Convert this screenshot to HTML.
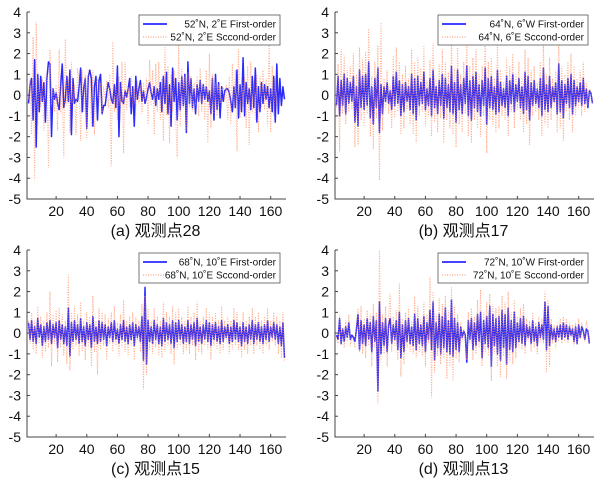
<!DOCTYPE html>
<html><head><meta charset="utf-8"><style>
html,body{margin:0;padding:0;background:#fff;}
svg{display:block;font-family:"Liberation Sans","Noto Sans CJK SC",sans-serif;}
</style></head><body>
<svg id="fig" width="603" height="481" viewBox="0 0 603 481"></svg>
<script>
const xTicks=[20,40,60,80,100,120,140,160];
const yTicks=[4,3,2,1,0,-1,-2,-3,-4,-5];
const titles=["(a) 观测点28","(b) 观测点17","(c) 观测点15","(d) 观测点13"];
const legendFirst=["52˚N, 2˚E First-order","64˚N, 6˚W First-order","68˚N, 10˚E First-order","72˚N, 10˚W First-order"];
const legendSecond=["52˚N, 2˚E Sccond-order","64˚N, 6˚E Sccond-order","68˚N, 10˚E Sccond-order","72˚N, 10˚E Sccond-order"];
const firstA=[-0.4,0.5,0.8,-1.2,1.7,-2.5,1.0,-0.8,0.9,-0.3,0.6,-1.3,0.8,1.6,1.5,-2.0,0.3,-0.2,0.1,-0.4,-0.7,0.5,1.5,-0.6,-0.2,0.9,-0.3,1.2,-1.9,0.8,-0.4,-0.2,-0.3,0.4,1.3,-0.8,0.3,0.8,-1.6,0.9,1.2,0.8,-1.5,0.4,0.9,-1.2,0.7,1.0,-0.9,-0.5,-0.5,0.1,0.6,0.3,-0.2,-0.4,0.5,-0.6,1.4,-2.0,0.6,-0.3,-0.4,0.2,-0.1,0.3,0.8,-0.9,0.4,-1.5,0.9,-0.2,0.3,0.7,-0.3,0.2,-0.4,-0.1,0.3,0.6,0.1,-0.2,0.4,-0.5,0.3,-0.2,0.6,-0.8,0.9,-0.4,1.1,-0.9,0.5,-1.5,1.3,-0.3,0.8,-1.2,0.6,-0.7,0.9,-0.5,1.0,-1.8,1.6,-0.4,0.8,-0.6,0.3,-0.9,0.5,-0.3,0.7,-0.4,0.5,-0.2,0.4,-0.3,0.2,-0.9,0.8,-1.2,1.0,-0.7,0.6,-1.1,0.4,-0.3,0.2,0.3,0.3,0.1,-0.3,-0.8,0.4,-0.6,1.2,-1.1,0.5,-0.8,1.8,-1.0,0.6,-0.4,0.3,-0.7,0.9,-0.6,1.3,-1.3,0.4,-0.8,0.6,-0.4,0.5,-0.2,0.4,-0.6,0.3,-0.8,0.9,-1.3,1.5,-0.9,0.8,-0.5,0.4,-0.2];
const secondA=[-0.2,0.8,-1.9,2.8,-4.1,3.5,-1.4,0.9,-0.6,0.8,-1.7,0.9,1.0,-3.5,2.2,-0.5,0.3,-0.8,0.5,-1.7,2.2,-0.9,0.4,-3.0,2.7,-0.5,0.7,-1.8,1.6,-0.4,0.5,-1.9,1.3,0.7,-2.2,1.2,-0.8,1.0,-2.1,1.2,0.9,-1.5,1.2,-1.9,0.5,0.8,-0.4,0.6,-0.9,0.4,-0.2,0.7,-0.6,1.0,-3.4,2.6,-0.8,0.5,-1.2,0.9,-0.5,1.6,-2.8,1.6,-0.7,0.4,-0.6,0.9,-0.5,0.3,-0.6,0.7,-0.4,0.5,-0.9,0.6,-0.3,0.8,-1.4,1.7,-0.5,1.2,-1.9,1.5,-0.8,1.6,-1.2,0.8,-2.2,2.3,-1.0,1.4,-2.3,1.0,-0.8,1.2,-1.0,-3.0,2.5,-1.5,1.3,-0.7,0.9,-1.7,1.1,-0.6,0.9,-0.8,0.6,-0.5,0.9,-1.0,1.3,-0.8,0.6,-1.2,1.2,-2.3,2.0,-1.6,1.0,-0.9,0.6,-1.0,0.5,-0.4,0.3,0.4,-0.3,0.5,-1.2,0.9,-1.4,1.5,-0.7,1.2,-2.7,2.2,-1.1,0.8,-0.5,0.9,-1.6,1.4,-2.4,1.6,-0.9,0.7,-1.2,1.0,-1.8,0.9,-0.6,1.2,-0.7,0.8,-1.5,2.6,-1.8,1.4,-1.0,0.8,-0.6];
const firstB=[-0.5,0.9,-1.0,0.7,-0.5,1.0,-0.9,0.8,-0.4,0.6,-0.3,0.9,-1.3,0.4,-1.5,1.2,-0.6,0.9,-0.7,1.0,-0.5,1.6,-1.1,0.4,-1.4,0.8,-0.6,1.3,-1.8,0.5,-0.9,0.4,-0.3,0.6,-0.4,0.2,-0.7,0.9,-0.5,1.1,-0.4,0.7,-1.0,0.5,-0.8,0.6,-0.3,0.4,-0.7,1.0,-0.9,0.8,-1.2,0.9,-0.5,0.6,-0.4,1.1,-0.7,0.3,-0.5,0.8,-1.0,1.2,-0.6,0.4,-0.9,0.7,-0.5,1.0,-1.1,0.8,-0.6,0.5,-0.8,1.4,-0.9,0.6,-1.3,1.2,-0.7,0.5,-0.9,0.8,-0.4,1.4,-1.0,0.7,-1.2,0.9,-0.6,1.1,-0.8,0.5,-1.0,0.7,-0.5,1.3,-1.4,0.8,-0.6,0.9,-0.7,0.4,-0.9,1.2,-0.8,0.6,-0.5,0.3,-0.6,0.9,-1.0,0.7,-0.4,1.0,-0.8,0.5,-0.3,0.8,-0.6,0.4,-0.9,1.1,-0.7,0.9,-1.2,0.6,-0.5,0.7,-0.4,0.3,-0.6,0.8,-1.0,1.3,-0.7,0.5,-0.8,0.9,-0.6,0.4,-0.3,0.6,-0.9,1.5,-0.8,0.7,-1.1,0.5,-0.4,0.8,-0.6,1.0,-0.9,0.7,-0.5,0.4,-0.3,0.6,-0.5,0.8,-0.4,0.3,-0.6,0.2,0.1,-0.4];
const secondB=[-0.6,1.5,-2.7,2.2,-0.9,1.9,-1.4,1.2,-0.8,1.4,-0.7,2.0,-2.5,1.0,-2.4,2.3,-1.2,1.7,-1.5,2.1,-0.9,3.2,-2.0,0.9,-2.6,1.6,-1.1,2.4,-4.1,3.5,-1.7,0.8,-0.7,1.2,-0.9,0.5,-1.6,1.9,-1.1,2.3,-0.8,1.6,-1.9,1.0,-1.6,1.4,-0.7,0.8,-1.4,2.2,-1.9,1.6,-2.3,1.8,-1.0,1.3,-0.8,2.4,-1.5,0.7,-1.0,1.7,-2.0,2.5,-1.3,0.8,-1.8,1.5,-1.1,2.2,-2.3,1.6,-1.2,1.1,-1.6,2.8,-1.9,1.3,-2.5,2.3,-1.4,1.0,-1.8,1.6,-0.9,2.7,-2.0,1.4,-2.3,1.8,-1.2,2.2,-1.6,1.0,-2.0,1.4,-1.0,3.0,-2.8,1.6,-1.2,1.8,-1.4,0.8,-1.8,2.4,-1.6,1.2,-1.0,0.6,-1.2,1.8,-2.0,1.4,-0.8,2.0,-1.6,1.0,-0.7,1.6,-1.2,0.9,-1.8,2.2,-1.4,1.8,-2.4,1.2,-1.0,1.4,-0.8,0.6,-1.2,1.6,-2.0,2.6,-1.4,1.0,-1.6,1.8,-1.2,0.8,-0.6,1.2,-1.8,3.0,-1.6,1.4,-2.2,1.0,-0.8,1.6,-1.2,2.0,-1.8,1.4,-1.0,0.8,-0.6,1.2,-1.0,1.6,-0.8,0.6,-0.5,0.3,0.2,-0.4];
const firstC=[0.5,-0.3,0.6,-0.4,0.3,-0.5,0.7,-0.2,0.4,-0.6,0.3,-0.4,0.5,-0.3,0.6,-0.5,0.4,-0.2,0.5,-0.7,0.6,-0.3,0.4,-0.5,0.3,-0.6,1.2,-1.1,0.5,-0.4,0.6,-0.3,0.4,-0.5,0.7,-0.4,0.3,-0.6,0.5,-0.3,0.4,-0.7,0.8,-0.4,0.3,-0.5,0.6,-0.4,0.5,-0.3,0.4,-0.6,0.3,-0.2,0.5,-0.4,0.6,-0.3,0.2,-0.5,0.4,-0.3,0.6,-0.4,0.3,-0.5,0.4,-0.3,0.5,-0.6,0.4,-0.2,0.3,-0.4,0.8,-1.3,2.2,-1.5,0.6,-0.4,0.3,-0.5,0.6,-0.3,0.4,-0.5,0.3,-0.6,0.7,-0.4,0.5,-0.3,0.4,-0.5,0.6,-0.7,0.5,-0.4,0.6,-0.3,0.4,-0.5,0.3,-0.4,0.6,-0.5,0.4,-0.3,0.5,-0.6,0.7,-0.4,0.3,-0.5,0.4,-0.3,0.6,-0.4,0.5,-0.6,0.4,-0.3,0.5,-0.4,0.3,-0.5,0.6,-0.4,0.3,-0.2,0.4,-0.5,0.3,-0.4,0.6,-0.3,0.5,-0.4,0.3,-0.6,0.5,-0.4,0.3,-0.5,0.4,-0.3,0.6,-0.5,0.4,-0.3,0.5,-0.4,0.3,-0.5,0.4,-0.3,0.6,-0.4,0.3,-0.2,0.5,-0.3,0.4,-0.5,0.3,-0.6,0.5,-1.2];
const secondC=[0.6,-0.5,1.0,-0.8,0.6,-1.0,1.3,-0.5,0.8,-1.2,0.6,-0.9,1.0,-0.7,2.0,-1.6,0.9,-0.5,1.1,-1.4,1.2,-0.7,0.9,-1.1,0.6,-1.5,2.8,-1.8,1.0,-0.8,1.3,-0.6,0.9,-1.1,1.5,-0.9,0.6,-1.3,1.0,-0.7,0.8,-1.6,1.8,-0.9,0.6,-2.0,1.2,-0.8,1.0,-0.6,0.9,-1.3,0.7,-0.5,1.0,-0.9,1.3,-0.6,0.5,-1.1,0.9,-0.7,1.6,-0.9,0.6,-1.1,0.8,-0.6,1.0,-1.3,0.8,-0.4,0.6,-0.9,1.4,-2.7,1.8,-2.0,1.2,-0.8,0.6,-1.0,1.2,-0.7,0.8,-1.1,0.6,-1.2,1.5,-0.9,1.0,-0.6,0.8,-1.0,1.3,-1.5,1.0,-0.8,1.2,-0.6,0.8,-1.0,0.6,-0.8,1.3,-1.0,0.8,-0.6,1.0,-1.3,1.5,-0.9,0.6,-1.0,0.8,-0.6,1.2,-0.8,1.0,-1.3,0.8,-0.6,1.0,-0.8,0.6,-1.0,1.3,-0.8,0.6,-0.4,0.8,-1.0,0.6,-0.8,1.2,-0.6,1.0,-0.8,0.6,-1.2,1.0,-0.8,0.6,-1.0,0.8,-0.6,1.2,-1.0,0.8,-0.6,1.0,-0.8,0.6,-1.0,0.8,-0.6,1.2,-0.8,0.6,-0.4,1.0,-0.6,0.8,-1.0,0.6,-1.2,1.0,-1.4];
const firstD=[-0.1,-0.3,0.7,-0.5,0.2,-0.4,0.3,-0.2,0.5,-0.3,-0.1,-0.2,-0.4,0.2,0.9,-0.8,0.6,-0.5,0.4,-0.6,0.7,-0.3,0.5,-0.9,0.8,-0.4,0.6,-2.8,1.5,-1.0,0.5,-0.6,0.7,-0.9,0.4,0.7,-0.5,0.4,-0.3,0.6,-0.8,1.0,-1.2,0.4,-0.9,0.6,-0.4,0.7,-0.5,0.3,-0.6,0.9,-0.8,0.7,-0.5,0.4,-0.6,0.8,-0.9,0.5,-0.3,1.1,-0.8,1.5,-1.3,0.5,-0.7,0.9,-1.0,0.8,-0.7,1.2,-0.9,0.6,-1.0,1.6,-1.1,0.7,-0.8,0.5,-0.9,0.3,-0.2,0.1,-0.1,-1.4,0.6,-0.3,0.7,-0.8,0.5,-0.6,0.9,-0.4,1.0,-1.2,0.6,-0.5,0.8,-0.7,1.3,-1.6,0.9,-0.6,0.7,-1.0,0.8,-1.3,1.1,-0.7,0.9,-1.5,1.2,-0.8,0.6,-0.9,1.0,-0.7,0.5,-0.4,0.7,-0.5,0.8,-0.6,0.4,-0.2,0.3,-0.5,0.6,-0.4,0.3,-0.6,0.5,-0.2,0.4,-0.3,1.5,-0.8,1.3,-0.6,0.4,-0.3,0.2,-0.4,0.3,-0.2,0.4,-0.3,0.5,-0.2,0.4,-0.3,0.3,-0.1,0.2,-0.4,0.3,-0.5,0.4,-0.2,0.3,0.1,-0.3,0.2,0.1,-0.5];
const secondD=[-0.2,-0.5,0.9,-0.6,0.3,-0.7,0.6,-0.4,0.9,-0.6,-0.2,-0.3,-0.7,0.4,1.2,-0.9,1.3,-1.0,0.7,-1.2,1.1,-0.6,0.9,-1.6,1.4,-0.7,1.0,-3.4,4.0,-1.3,0.9,-1.0,1.3,-1.6,0.8,1.9,-0.9,0.8,-0.6,1.1,-1.3,2.4,-2.1,0.7,-1.5,1.0,-0.7,1.2,-0.9,0.6,-1.0,1.8,-1.2,1.3,-0.9,0.7,-1.1,1.5,-1.6,0.9,-0.5,2.7,-3.1,2.0,-1.9,0.9,-1.1,1.7,-1.5,1.4,-1.2,1.8,-2.2,1.1,-1.6,2.2,-2.3,1.3,-1.2,0.9,-1.4,0.5,-0.4,0.2,-0.2,-1.3,1.0,-0.5,1.2,-1.3,0.8,-1.0,1.6,-0.7,2.1,-1.6,1.0,-0.9,1.5,-1.1,1.9,-2.3,1.4,-1.0,1.2,-1.6,1.3,-2.1,1.8,-1.1,1.5,-2.2,2.0,-1.4,1.0,-1.5,1.6,-1.2,0.8,-0.7,1.2,-0.8,1.4,-1.0,0.7,-0.4,0.6,-0.9,1.0,-0.7,0.5,-1.0,0.8,-0.4,0.7,-0.5,2.0,-1.9,1.6,-1.6,0.7,-0.5,0.4,-0.7,0.5,-0.4,0.7,-0.5,0.8,-0.4,0.7,-0.5,0.5,-0.2,0.4,-0.6,0.5,-0.6,0.7,-0.3,0.5,0.2,-0.4,0.6,0.1,-0.5];
const firstSeries=[firstA,firstB,firstC,firstD];
const secondSeries=[secondA,secondB,secondC,secondD];

const NS="http://www.w3.org/2000/svg";
const svg=document.getElementById('fig');
function mk(tag,attrs,parent){const e=document.createElementNS(NS,tag);for(const k in attrs)e.setAttribute(k,attrs[k]);(parent||svg).appendChild(e);return e;}
const panelOrigin=[[27,12],[335,12],[27,250],[335,250]];
const plotW=259, plotH=187, xMin=1, xMax=170, yMax=4, yMin=-5;
const panelKeys=["a","b","c","d"];
panelOrigin.forEach((o,p)=>{
  const L=o[0],T=o[1];
  const sx=v=>L+(v-xMin)/(xMax-xMin)*plotW;
  const sy=v=>T+(yMax-v)/(yMax-yMin)*plotH;
  const g=mk('g',{});
  
  
  const ax=mk('path',{d:`M${L},${T} V${T+plotH} H${L+plotW}`,fill:'none',stroke:'#444','stroke-width':1},g);
  
  
  yTicks.forEach(t=>{
    const y=sy(t);
    mk('line',{x1:L,x2:L+3,y1:y,y2:y,stroke:'#444'},g);
    const tx=mk('text',{x:L-6,y:y+5,'text-anchor':'end','font-size':14,fill:'#111'},g);
    tx.textContent=t;
    
    
  });
  xTicks.forEach(t=>{
    const x=sx(t);
    mk('line',{x1:x,x2:x,y1:T+plotH,y2:T+plotH-3,stroke:'#444'},g);
    const tx=mk('text',{x:x,y:T+plotH+17,'text-anchor':'middle','font-size':14,fill:'#111'},g);
    tx.textContent=t;
    
    
  });
  const f=firstSeries[p], s=secondSeries[p];
  const pf=f.map((v,i)=>`${i?'L':'M'}${sx(i+2).toFixed(2)},${sy(v).toFixed(2)}`).join('');
  const l1=mk('path',{d:pf,fill:'none',stroke:'#2a2aff','stroke-width':1.5,'stroke-linejoin':'round'},g);
  
  
  const ps=s.map((v,i)=>`${i?'L':'M'}${sx(i+2).toFixed(2)},${sy(v).toFixed(2)}`).join('');
  const l2=mk('path',{d:ps,fill:'none',stroke:'#ff8a5c','stroke-width':1,'stroke-dasharray':'1,1.5','stroke-opacity':0.75},g);
  
  
  const lx=L+(p%2?103:112), ly=T+3, lw=(p%2?150:141), lh=30;
  const lg=mk('g',{},g);
  
  
  mk('rect',{x:lx,y:ly,width:lw,height:lh,fill:'#fff',stroke:'#555','stroke-width':0.8},lg);
  mk('line',{x1:lx+4,x2:lx+28,y1:ly+9,y2:ly+9,stroke:'#2a2aff','stroke-width':1.8},lg);
  mk('line',{x1:lx+4,x2:lx+28,y1:ly+22,y2:ly+22,stroke:'#ff8a5c','stroke-width':1,'stroke-dasharray':'1,1.5'},lg);
  const t1=mk('text',{x:lx+lw-4,y:ly+12.5,'text-anchor':'end','font-size':10,fill:'#111'},lg);
  t1.textContent=legendFirst[p];
  
  
  const t2=mk('text',{x:lx+lw-4,y:ly+25.5,'text-anchor':'end','font-size':10,fill:'#111'},lg);
  t2.textContent=legendSecond[p];
  
  
  const tt=mk('text',{x:L+plotW/2-1,y:T+plotH+37,'text-anchor':'middle','font-size':16,fill:'#111'},g);
  tt.textContent=titles[p];
  
  
});
</script>
</body></html>
